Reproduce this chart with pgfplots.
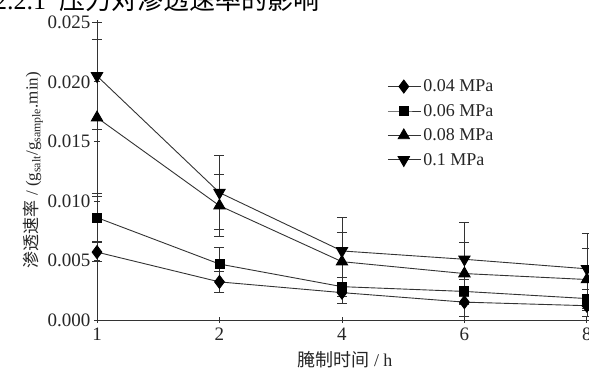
\documentclass[border=0pt]{standalone}
\usepackage{pgfplots}
\pgfplotsset{compat=1.18}
\usepackage{fontspec}
\setmainfont{Liberation Serif}
\newfontfamily\cjk{Noto Sans CJK SC}

% time (category index), rate, error
\pgfplotstableread{
x y e
0 0.0057 0.0008
1 0.0032 0.0009
2 0.0023 0.0009
3 0.0015 0.0012
4 0.0012 0.0009
}\pa
\pgfplotstableread{
x y e
0 0.0086 0.0020
1 0.0047 0.0014
2 0.0028 0.0008
3 0.0024 0.0010
4 0.0018 0.0008
}\pb
\pgfplotstableread{
x y e
0 0.0170 0.0066
1 0.0096 0.0026
2 0.0049 0.0025
3 0.0039 0.0026
4 0.0034 0.0026
}\pc
\pgfplotstableread{
x y e
0 0.0205 0.0045
1 0.0107 0.0031
2 0.0058 0.0028
3 0.0051 0.0031
4 0.0043 0.0030
}\pd

\begin{document}
\begin{tikzpicture}[x=1pt,y=1pt]
\useasboundingbox (0,0) rectangle (589,374);
\node[anchor=base west,inner sep=0pt,font=\fontsize{26}{28}\selectfont] at (-6,364) {2.2.1\ \ {\cjk 压力对渗透速率的影响}};
\begin{axis}[
  at={(97pt,54pt)}, anchor=south west,
  scale only axis, width=496pt, height=300pt,
  xmin=0, xmax=4.05, ymin=0, ymax=0.0252,
  axis x line*=bottom, axis y line*=left,
  axis line style={line width=0.9pt, black!80},
  xtick={0,1,2,3,4}, xticklabels={1,2,4,6,8},
  ytick={0,0.005,0.010,0.015,0.020,0.025},
  scaled y ticks=false,
  yticklabel style={/pgf/number format/fixed, /pgf/number format/fixed zerofill, /pgf/number format/precision=3},
  /pgf/number format/assume math mode=true,
  tick label style={font=\fontsize{19}{21}\selectfont, black!85},
  tick align=center, major tick length=6pt,
  tick style={line width=0.8pt, black!80},
  xticklabel style={yshift=-1pt},
  xlabel={{\cjk 腌制时间} / h},
  xlabel style={font=\fontsize{18}{20}\selectfont, yshift=-4pt, black!85},
  ylabel={{\cjk 渗透速率} / (g\textsubscript{salt}/g\textsubscript{sample}.min)},
  ylabel style={font=\fontsize{17}{19}\selectfont, yshift=-2pt, black!85},
  error bars/y dir=both, error bars/y explicit,
  error bars/error bar style={line width=0.7pt, black!80},
  error bars/error mark options={rotate=90, mark size=5pt, line width=0.7pt, black!80},
  legend style={draw=none, fill=none, at={(0.585,0.808)}, anchor=north west,
    font=\fontsize{18}{20}\selectfont, row sep=7pt, inner sep=0pt, text=black!85},
  legend cell align=left,
  legend image code/.code={\draw[mark repeat=2,mark phase=2,#1] plot coordinates {(0pt,0pt) (16pt,0pt) (33pt,0pt)};},
  clip=false,
]
\addplot[line width=0.9pt, black!80, mark=diamond*, mark size=6.5pt, mark options={solid, fill=black, draw=black}] table[x=x, y=y, y error=e] {\pa};
\addplot[line width=0.9pt, black!80, mark=square*, mark size=4.5pt, mark options={solid, fill=black, draw=black}] table[x=x, y=y, y error=e] {\pb};
\addplot[line width=0.9pt, black!80, mark=triangle*, mark size=6.5pt, mark options={solid, fill=black, draw=black}] table[x=x, y=y, y error=e] {\pc};
\addplot[line width=0.9pt, black!80, mark=triangle*, mark size=6.5pt, mark options={solid, fill=black, draw=black, rotate=180}] table[x=x, y=y, y error=e] {\pd};
\legend{0.04 MPa, 0.06 MPa, 0.08 MPa, 0.1 MPa}
\end{axis}
\end{tikzpicture}
\end{document}
